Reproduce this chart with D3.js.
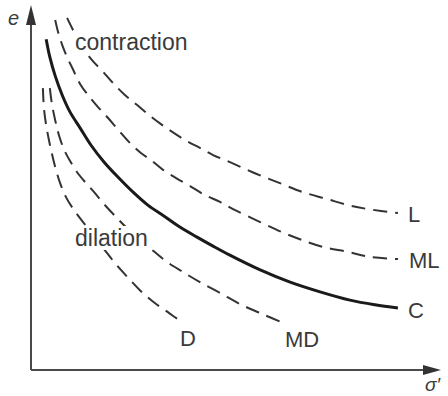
<!DOCTYPE html>
<html>
<head>
    <meta charset="UTF-8">
    <title></title>
    <script src="https://cdn.jsdelivr.net/npm/d3@7/dist/d3.min.js"></script>
    <style>
        body{
            padding: 0;
            margin: 0;
            background: #fff;
        }
        text{
            font-family: "Liberation Sans", Arial, sans-serif;
            fill: #3a3a3a;
        }
    </style>
</head>
<body>
<div class="first"></div>

<script>

    // effective stress (x) and void ratio (y)
    var sigmaC  = [0.37,0.46,0.59,0.76,0.95,1.20,1.46,1.78,2.12,2.49,2.85,3.24,3.63,4.05,4.44,4.85,5.59,6.32,7.05,7.78,8.39,8.95];
    var eC      = [0.919,0.869,0.817,0.764,0.717,0.672,0.625,0.578,0.536,0.494,0.458,0.428,0.397,0.369,0.344,0.319,0.278,0.244,0.217,0.194,0.181,0.172];

    var sigmaL  = [0.88,1.00,1.15,1.32,1.51,1.76,2.00,2.29,2.59,2.88,3.17,3.49,3.80,4.12,4.44,4.78,5.39,6.07,6.63,7.22,7.73,8.22,8.95];
    var eL      = [0.978,0.950,0.917,0.886,0.858,0.828,0.797,0.764,0.736,0.708,0.683,0.658,0.636,0.617,0.597,0.581,0.550,0.519,0.494,0.475,0.458,0.447,0.436];

    var sigmaML = [0.59,0.66,0.76,0.88,1.02,1.20,1.41,1.63,1.88,2.15,2.41,2.68,2.95,3.22,3.54,3.88,4.24,4.61,4.98,5.59,6.12,6.61,7.12,7.73,8.27,8.95];
    var eML     = [0.972,0.939,0.903,0.869,0.836,0.794,0.761,0.731,0.700,0.664,0.631,0.603,0.581,0.556,0.533,0.511,0.486,0.467,0.444,0.411,0.383,0.361,0.342,0.328,0.314,0.308];

    var sigmaMD = [0.46,0.51,0.59,0.68,0.80,0.95,1.12,1.32,1.54,1.78,2.05,2.34,2.66,2.98,3.32,3.71,4.12,4.61,5.10,5.63,6.15];
    var eMD     = [0.783,0.739,0.694,0.653,0.614,0.581,0.550,0.522,0.494,0.461,0.428,0.394,0.361,0.331,0.300,0.272,0.244,0.214,0.183,0.156,0.131];

    var sigmaD  = [0.29,0.32,0.39,0.49,0.59,0.71,0.85,1.05,1.27,1.51,1.78,2.07,2.37,2.68,3.02,3.37,3.68];
    var eD      = [0.783,0.722,0.667,0.611,0.564,0.519,0.481,0.444,0.411,0.375,0.336,0.294,0.256,0.219,0.186,0.158,0.133];

    var curveNames = ["L","ML","C","MD","D"];

    var width = 448, height = 396;

    var svg = d3.select("body")
        .select(".first")
        .append("svg")
        .attr("width", width)
        .attr("height", height);

    var x = d3.scaleLinear()   // sigma'
        .domain([0, 10])
        .range([31, 441]);

    var y = d3.scaleLinear()   // e
        .domain([0, 1])
        .range([370, 10]);

    function zip(xs, ys){
        return xs.map(function(v, i){ return [v, ys[i]]; });
    }

    var curves = [
        {name: "L",  pts: zip(sigmaL, eL),   solid: false},
        {name: "ML", pts: zip(sigmaML, eML), solid: false},
        {name: "C",  pts: zip(sigmaC, eC),   solid: true},
        {name: "MD", pts: zip(sigmaMD, eMD), solid: false},
        {name: "D",  pts: zip(sigmaD, eD),   solid: false}
    ];

    var line = d3.line()
        .x(function(d){ return x(d[0]); })
        .y(function(d){ return y(d[1]); })
        .curve(d3.curveCatmullRom.alpha(0.5));

    svg.selectAll(".curve")
        .data(curves)
        .enter()
        .append("path")
        .attr("class", "curve")
        .attr("d", function(d){ return line(d.pts); })
        .attr("fill", "none")
        .attr("stroke", function(d){ return d.solid ? "#1a1a1a" : "#333"; })
        .attr("stroke-width", function(d){ return d.solid ? 3 : 2; })
        .attr("stroke-dasharray", function(d){ return d.solid ? null : "14,8"; });

    // axes with arrow heads
    var axisColor = "#4a4a4a";
    svg.append("line")
        .attr("x1", x(0)).attr("y1", y(0))
        .attr("x2", x(0)).attr("y2", y(0.97))
        .attr("stroke", axisColor).attr("stroke-width", 2);
    svg.append("line")
        .attr("x1", x(0)).attr("y1", y(0))
        .attr("x2", x(9.6)).attr("y2", y(0))
        .attr("stroke", axisColor).attr("stroke-width", 2);

    svg.append("path")
        .attr("d", "M" + x(0) + "," + (y(1) - 5) + "l-5,20l10,0z")
        .attr("fill", "#333");
    svg.append("path")
        .attr("d", "M" + x(10) + "," + y(0) + "l-18,-5l0,10z")
        .attr("fill", "#333");

    svg.append("text")
        .attr("x", 8).attr("y", 25)
        .style("font-size", "20px")
        .style("font-style", "italic")
        .text("e");
    svg.append("text")
        .attr("x", 425).attr("y", 391)
        .style("font-size", "19px")
        .style("font-style", "italic")
        .text("σ′");

    // region labels sit on a white patch, hiding the dashes behind them
    function blockLabel(txt, px, py){
        var g = svg.append("g");
        var rect = g.append("rect").attr("fill", "#fff");
        var t = g.append("text")
            .attr("x", px).attr("y", py)
            .style("font-size", "23px")
            .text(txt);
        var b = t.node().getBBox();
        rect.attr("x", b.x - 2).attr("y", b.y + 1)
            .attr("width", b.width + 4).attr("height", b.height - 2);
    }
    blockLabel("contraction", 75, 50);
    blockLabel("dilation", 75, 246);

    // curve end labels
    var labelPos = {L: [408, 222], ML: [409, 268], C: [408, 318], MD: [285, 347], D: [180, 346]};
    svg.selectAll(".curveLabel")
        .data(curveNames)
        .enter()
        .append("text")
        .attr("class", "curveLabel")
        .attr("x", function(d){ return labelPos[d][0]; })
        .attr("y", function(d){ return labelPos[d][1]; })
        .style("font-size", "22px")
        .text(function(d){ return d; });

</script>
</body>
</html>
